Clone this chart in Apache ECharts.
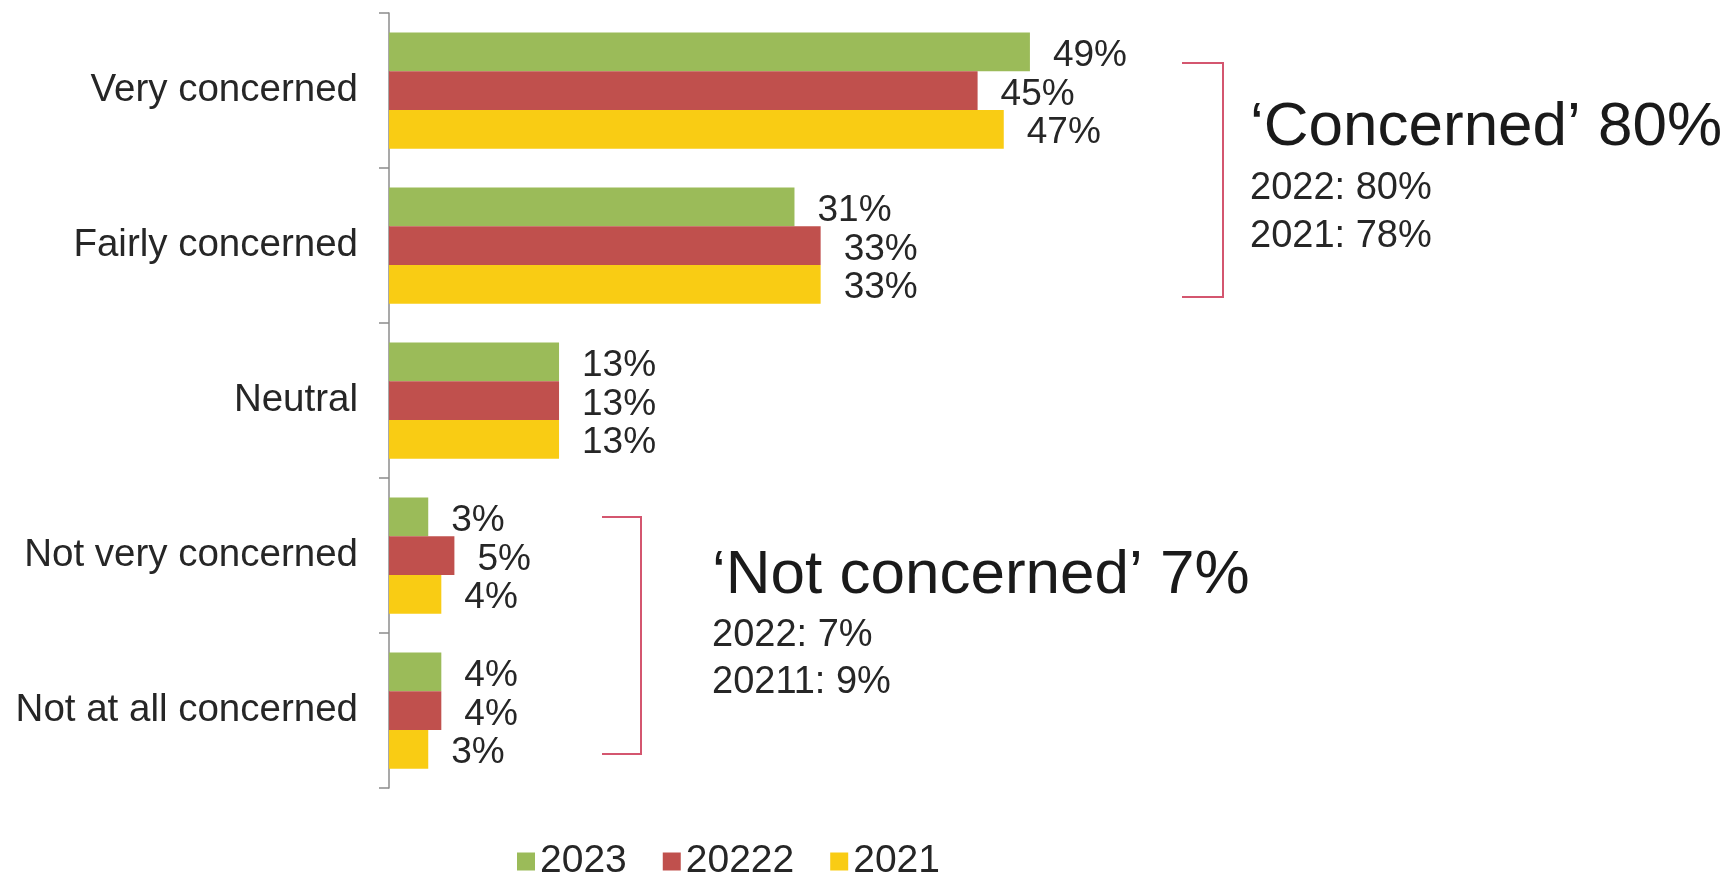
<!DOCTYPE html>
<html>
<head>
<meta charset="utf-8">
<title>Level of concern</title>
<script src="https://cdn.jsdelivr.net/npm/echarts@6/dist/echarts.min.js"></script>
<style>
  html, body { margin: 0; padding: 0; background: #ffffff; }
  #chart { width: 1724px; height: 877px; }
</style>
</head>
<body>
<div id="chart"></div>
<script>
// Response categories, top to bottom
const categories = ['Very concerned', 'Fairly concerned', 'Neutral', 'Not very concerned', 'Not at all concerned'];

// Share of respondents (%) per year
const seriesNames = ['2023', '20222', '2021'];
const values2023 = [49, 31, 13, 3, 4];
const values2022 = [45, 33, 13, 5, 4];
const values2021 = [47, 33, 13, 4, 3];

// Summary notes shown beside the brackets
const concernedHeadline = '\u2018Concerned\u2019 80%';
const concernedNotes = ['2022: 80%', '2021: 78%'];
const notConcernedHeadline = '\u2018Not concerned\u2019 7%';
const notConcernedNotes = ['2022: 7%', '20211: 9%'];

const colors = ['#9BBB59', '#C0504D', '#F9CC14'];
const FONT = '"Liberation Sans", Arial, Helvetica, sans-serif';
const TEXT = '#262626';
const BRACKET = '#D4566F';

const chart = echarts.init(document.getElementById('chart'), null, { renderer: 'canvas' });

function barSeries(name, data, color) {
  return {
    name: name,
    type: 'bar',
    data: data,
    barGap: '0%',
    barCategoryGap: '25%',
    itemStyle: { color: color },
    label: {
      show: true,
      position: 'right',
      distance: 23,
      offset: [0, 4],
      formatter: '{c}%',
      fontFamily: FONT,
      fontSize: 37,
      color: TEXT
    },
    emphasis: { disabled: true },
    animation: false
  };
}

function bracket(x0, x1, y0, y1) {
  return {
    type: 'polyline',
    shape: { points: [[x0, y0], [x1, y0], [x1, y1], [x0, y1]] },
    style: { stroke: BRACKET, lineWidth: 2, fill: null }
  };
}

function note(x, y, text, size, color) {
  return {
    type: 'text',
    x: x,
    y: y,
    style: {
      text: text,
      fontFamily: FONT,
      fontSize: size,
      fill: color,
      align: 'left',
      verticalAlign: 'middle'
    }
  };
}

const option = {
  backgroundColor: '#ffffff',
  animation: false,
  color: colors,
  grid: { left: 389, top: 13, width: 1308, bottom: 89, containLabel: false },
  xAxis: {
    type: 'value',
    min: 0,
    max: 100,
    show: false,
    splitLine: { show: false }
  },
  yAxis: {
    type: 'category',
    data: categories,
    inverse: true,
    axisLine: { show: true, lineStyle: { color: '#8c8c8c', width: 1.5 } },
    axisTick: { show: true, length: 10, lineStyle: { color: '#8c8c8c', width: 1.5 } },
    axisLabel: {
      margin: 31,
      fontFamily: FONT,
      fontSize: 38.5,
      color: TEXT
    }
  },
  legend: {
    data: seriesNames,
    left: 517,
    top: 842,
    padding: 0,
    itemWidth: 18,
    itemHeight: 18,
    itemGap: 36,
    icon: 'rect',
    textStyle: { fontFamily: FONT, fontSize: 39, color: TEXT },
    selectedMode: false
  },
  series: [
    barSeries(seriesNames[0], values2023, colors[0]),
    barSeries(seriesNames[1], values2022, colors[1]),
    barSeries(seriesNames[2], values2021, colors[2])
  ],
  graphic: [
    bracket(1182, 1223, 63, 297),
    bracket(602, 641, 517, 754),
    note(1250, 128, concernedHeadline, 62, '#1a1a1a'),
    note(1250, 189, concernedNotes[0], 38, TEXT),
    note(1250, 237, concernedNotes[1], 38, TEXT),
    note(712, 576, notConcernedHeadline, 62, '#1a1a1a'),
    note(712, 636, notConcernedNotes[0], 38, TEXT),
    note(712, 683, notConcernedNotes[1], 38, TEXT)
  ]
};

chart.setOption(option);
</script>
</body>
</html>
